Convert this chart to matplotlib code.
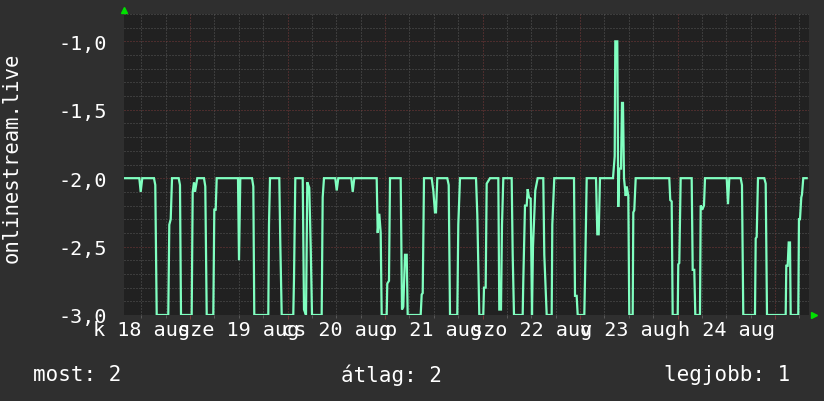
import numpy as np
import matplotlib
matplotlib.use("Agg")
import matplotlib.pyplot as plt

# time in hours since 18 aug 00:00, value = -(rank)
hours = [8.00, 11.52, 11.86, 12.25, 15.13, 15.45, 15.80, 18.65, 18.90, 19.25,
         19.57, 21.21, 21.53, 21.78, 24.41, 24.66, 24.98, 25.23, 25.79, 27.44,
         27.76, 28.11, 29.73, 29.98, 30.32, 30.57, 35.81, 36.06, 36.38, 39.26,
         39.58, 39.82, 43.27, 43.44, 43.69, 45.98, 46.22, 46.57, 49.42, 49.60,
         49.92, 51.74, 52.06, 52.55, 52.87, 53.36, 53.71, 54.03, 56.41, 56.66,
         56.98, 59.76, 60.11, 60.50, 63.70, 64.05, 64.44, 69.95, 70.20, 70.59,
         70.94, 71.18, 72.41, 72.56, 72.98, 73.23, 75.86, 76.18, 76.50, 76.92,
         77.34, 77.58, 80.78, 81.03, 81.28, 81.60, 83.49, 83.89, 84.30, 84.55,
         84.87, 87.33, 87.68, 88.00, 89.79, 90.04, 90.46, 94.40, 94.72, 95.21,
         96.19, 96.37, 96.78, 97.03, 97.42, 97.84, 99.89, 100.13, 100.55, 100.80,
         101.12, 103.18, 103.43, 103.75, 105.89, 106.04, 106.46, 106.88, 107.12, 107.44,
         107.86, 108.18, 108.43, 108.99, 109.58, 110.96, 111.21, 111.80, 113.03, 113.18,
         113.67, 118.52, 118.77, 119.18, 119.43, 121.06, 121.23, 121.65, 123.94, 124.26,
         124.60, 124.92, 128.12, 128.54, 128.69, 129.18, 129.42, 129.67, 130.09, 130.33,
         130.58, 130.83, 131.25, 131.49, 131.89, 132.13, 132.97, 133.12, 133.36, 133.71,
         141.98, 142.22, 142.57, 142.81, 144.05, 144.19, 144.44, 144.78, 147.49, 147.74,
         148.13, 148.38, 149.53, 149.71, 150.10, 150.52, 150.77, 156.11, 156.43, 156.75,
         159.55, 159.87, 160.19, 163.07, 163.25, 163.49, 163.81, 165.36, 165.71, 166.03,
         170.63, 170.78, 171.12, 171.37, 171.69, 171.86, 173.73, 173.90, 174.15, 174.47,
         174.64, 174.96, 175.80]
values = [-2.0, -2.0, -2.1, -2.0, -2.0, -2.05, -3.0, -3.0, -2.34, -2.3,
          -2.0, -2.0, -2.05, -3.0, -3.0, -2.1, -2.03, -2.1, -2.0, -2.0,
          -2.06, -3.0, -3.0, -2.23, -2.23, -2.0, -2.0, -2.6, -2.0, -2.0,
          -2.06, -3.0, -3.0, -2.34, -2.0, -2.0, -2.47, -3.0, -3.0, -2.73,
          -2.0, -2.0, -2.96, -3.0, -2.03, -2.07, -2.5, -3.0, -3.0, -2.14,
          -2.0, -2.0, -2.09, -2.0, -2.0, -2.1, -2.0, -2.0, -2.4, -2.26,
          -2.4, -3.0, -3.0, -2.77, -2.75, -2.0, -2.0, -2.96, -2.94, -2.56,
          -2.56, -3.0, -3.0, -2.85, -2.84, -2.0, -2.0, -2.09, -2.25, -2.25,
          -2.0, -2.0, -2.05, -3.0, -3.0, -2.34, -2.0, -2.0, -2.27, -3.0,
          -3.0, -2.8, -2.8, -2.04, -2.02, -2.0, -2.0, -2.96, -2.96, -2.34,
          -2.0, -2.0, -2.56, -3.0, -3.0, -2.75, -2.2, -2.2, -2.08, -2.14,
          -2.15, -3.0, -2.5, -2.09, -2.0, -2.0, -2.56, -3.0, -3.0, -2.34,
          -2.0, -2.0, -2.86, -2.86, -3.0, -3.0, -2.74, -2.0, -2.0, -2.41,
          -2.41, -2.0, -2.0, -1.84, -1.0, -1.0, -2.21, -1.93, -1.93, -1.45,
          -1.45, -2.0, -2.13, -2.06, -2.13, -3.0, -3.0, -2.25, -2.235, -2.0,
          -2.0, -2.16, -2.17, -3.0, -3.0, -2.63, -2.62, -2.0, -2.0, -2.67,
          -2.67, -3.0, -3.0, -2.2, -2.23, -2.2, -2.0, -2.0, -2.19, -2.0,
          -2.0, -2.05, -3.0, -3.0, -2.44, -2.43, -2.0, -2.0, -2.04, -3.0,
          -3.0, -2.64, -2.64, -2.47, -2.47, -3.0, -3.0, -2.3, -2.3, -2.14,
          -2.12, -2.0, -2.0]

day_labels = ['k 18 aug', 'sze 19 aug', 'cs 20 aug', 'p 21 aug',
              'szo 22 aug', 'v 23 aug', 'h 24 aug']
ytick_values = [-3.0, -2.5, -2.0, -1.5, -1.0]
ytick_labels = ['-3,0', '-2,5', '-2,0', '-1,5', '-1,0']
legend_items = ['most: 2', 'átlag: 2', 'legjobb: 1']

bg = '#2f2f2f'
canvas = '#212121'
minor_col = '#585858'
major_col = '#77393a'
line_col = '#80ffc0'

plt.rcParams['font.family'] = ['DejaVu Sans Mono']

fig = plt.figure(figsize=(8.24, 4.02), dpi=100, facecolor=bg)
ax = fig.add_axes([124 / 824, 1 - 316 / 402, 685 / 824, 301 / 402])
ax.set_facecolor(canvas)

ax.plot(hours, values, color=line_col, lw=1.6, solid_joinstyle='miter', zorder=3)

ax.set_xlim(7.75, 176.37)
ax.set_ylim(-3.0, -0.8)

# grid: midnights red, every 6h gray; y every 0.1 gray, every 0.5 red
ax.set_xticks(np.arange(24, 177, 24))
ax.set_xticks(np.arange(12, 177, 6), minor=True)
ax.set_xticklabels([])
ax.set_yticks(ytick_values)
ax.set_yticklabels(ytick_labels)
ax.set_yticks(np.arange(-3.0, -0.75, 0.1), minor=True)

dots = (0, (1, 2))
ax.grid(which='minor', color=minor_col, lw=0.72, linestyle=dots)
ax.grid(which='major', color=major_col, lw=0.72, linestyle=dots)
ax.set_axisbelow(True)

ax.tick_params(axis='x', which='major', colors=major_col, length=3, width=0.72)
ax.tick_params(axis='x', which='minor', colors=minor_col, length=2, width=0.72)
ax.tick_params(axis='y', which='both', length=0, pad=12, labelsize=14.5, labelcolor='white')
for s in ax.spines.values():
    s.set_visible(False)

xt = ax.get_xaxis_transform()
for i, lab in enumerate(day_labels):
    ax.text(12 + 24 * i, -0.047, lab, transform=xt, ha='center', va='center',
            color='white', fontsize=14.5, clip_on=False)

fig.text(12 / 824, 1 - 158 / 402, 'onlinestream.live', rotation=90, ha='center',
         va='center', color='white', fontsize=14.8)

fig.text(33 / 824, 1 - 375 / 402, legend_items[0], ha='left', va='center',
         color='white', fontsize=15)
fig.text(341 / 824, 1 - 375 / 402, legend_items[1], ha='left', va='center',
         color='white', fontsize=15)
fig.text(790 / 824, 1 - 375 / 402, legend_items[2], ha='right', va='center',
         color='white', fontsize=15)

# axis arrows
fig.add_artist(plt.Line2D([124.5 / 824], [1 - 10.5 / 402], marker='^', color='#00e000',
                          markersize=5, linestyle='none'))
fig.add_artist(plt.Line2D([813.5 / 824], [1 - 315.5 / 402], marker='>', color='#00e000',
                          markersize=5, linestyle='none'))

fig.savefig('out.png', dpi=100, facecolor=bg)
